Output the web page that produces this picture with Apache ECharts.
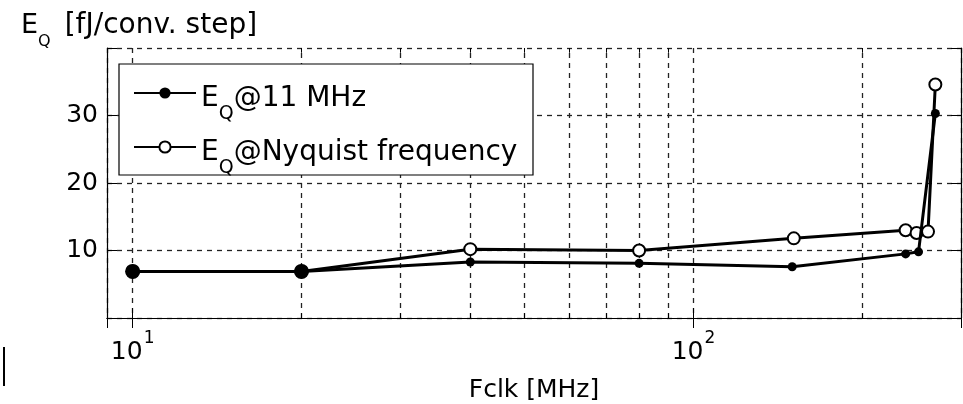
<!DOCTYPE html>
<html>
<head>
<meta charset="utf-8">
<script src="https://cdn.jsdelivr.net/npm/echarts@6/dist/echarts.min.js"></script>
<style>html,body{margin:0;padding:0;background:#fff}#c{width:963px;height:404px}</style>
</head>
<body>
<div id="c"></div>
<script>
// Data
const fclk11 = [10, 20, 40, 80, 150, 239, 252, 270];
const eq11 = [6.9, 6.9, 8.3, 8.1, 7.6, 9.5, 9.8, 30.3];
const fclkNyq = [10, 20, 40, 80, 151, 239, 250, 262, 270];
const eqNyq = [6.9, 6.9, 10.2, 10.0, 11.8, 13.0, 12.6, 12.8, 34.6];
const yTicks = [10, 20, 30];
const xMinorGrid = [20, 30, 40, 50, 60, 70, 80, 90, 200];
const seriesNames = ['E_Q@11 MHz', 'E_Q@Nyquist frequency'];

const FONT = 'DejaVu Sans';
const pair = (xs, ys) => xs.map((x, i) => [x, ys[i]]);

const gridDash = { color: '#222', width: 1.3, type: [5, 5] };
const minorLines = [];
xMinorGrid.forEach(v => {
  minorLines.push({ xAxis: v, lineStyle: gridDash });
  minorLines.push([{ coord: [v, 0], lineStyle: { type: 'solid', width: 1, color: '#000' } }, { coord: [v, 0.7] }]);
  minorLines.push([{ coord: [v, 39.3], lineStyle: { type: 'solid', width: 1, color: '#000' } }, { coord: [v, 40] }]);
});

const subRich = {
  n: { fontSize: 28, fontFamily: FONT, color: '#000', lineHeight: 30, padding: [7, 0, 6, 0], verticalAlign: 'top' },
  s: { fontSize: 19, fontFamily: FONT, color: '#000', lineHeight: 12, padding: [27, 0, 0, 0], verticalAlign: 'top' }
};

const chart = echarts.init(document.getElementById('c'));
chart.setOption({
  animation: false,
  backgroundColor: '#fff',
  grid: { left: 107, right: 2, top: 48, bottom: 86, outerBoundsMode: 'none', containLabel: false },
  title: {
    left: 16, top: 7,
    text: '{n|E}{s|Q}{b|[fJ/conv. step]}',
    textStyle: {
      fontWeight: 'normal',
      rich: {
        n: { fontSize: 27, fontFamily: FONT, fontWeight: 'normal', color: '#000', lineHeight: 30, verticalAlign: 'top' },
        s: { fontSize: 16, fontFamily: FONT, fontWeight: 'normal', color: '#000', lineHeight: 16, padding: [22, 0, 0, 0], verticalAlign: 'top' },
        b: { fontSize: 28, fontFamily: FONT, fontWeight: 'normal', color: '#000', lineHeight: 30, padding: [0, 0, 0, 14], verticalAlign: 'top' }
      }
    }
  },
  legend: {
    orient: 'vertical',
    left: 119, top: 70,
    padding: [8, 15, 4, 14],
    itemWidth: 62, itemHeight: 14, itemGap: 8,
    borderWidth: 0, backgroundColor: 'transparent',
    z: 10,
    formatter: name => {
      const parts = name.split('_Q');
      return '{n|' + parts[0] + '}{s|Q}{n|' + parts[1] + '}';
    },
    textStyle: { rich: subRich }
  },
  xAxis: [{
    type: 'log', logBase: 10, min: 9, max: 300, position: 'bottom',
    axisLine: { show: true, lineStyle: { color: '#000', width: 1.2 } },
    axisTick: { show: true, inside: true, length: 10, lineStyle: { color: '#000' } },
    axisLabel: {
      margin: 12,
      formatter: v => {
        const e = Math.log10(v);
        if (Math.abs(e - Math.round(e)) > 1e-6) return '';
        return '{b|10}{e|' + Math.round(e) + '}';
      },
      rich: {
        b: { fontSize: 25, fontFamily: FONT, color: '#000', lineHeight: 28, padding: [10, 0, 0, 0], verticalAlign: 'top' },
        e: { fontSize: 17, fontFamily: FONT, color: '#000', lineHeight: 17, padding: [0, 0, 0, 1], verticalAlign: 'top' }
      }
    },
    splitLine: { show: true, lineStyle: gridDash },
    name: 'Fclk [MHz]', nameLocation: 'middle', nameGap: 60,
    nameTextStyle: { fontSize: 25, fontFamily: FONT, color: '#000' }
  }, {
    type: 'log', logBase: 10, min: 9, max: 300, position: 'top',
    axisLine: { show: true, lineStyle: { color: '#000', width: 1.2 } },
    axisTick: { show: true, inside: true, length: 10, lineStyle: { color: '#000' } },
    axisLabel: { show: false },
    splitLine: { show: false }
  }],
  yAxis: [{
    type: 'value', min: 0, max: 40, interval: 10, position: 'left',
    axisLine: { show: true, lineStyle: { color: '#000', width: 1.2 } },
    axisTick: { show: true, inside: true, length: 10, lineStyle: { color: '#000' } },
    axisLabel: {
      margin: 9, fontSize: 25, fontFamily: FONT, color: '#000',
      formatter: v => (yTicks.indexOf(v) >= 0 ? String(v) : '')
    },
    splitLine: { show: true, lineStyle: gridDash }
  }, {
    type: 'value', min: 0, max: 40, interval: 10, position: 'right',
    axisLine: { show: true, lineStyle: { color: '#000', width: 1.2 } },
    axisTick: { show: true, inside: true, length: 10, lineStyle: { color: '#000' } },
    axisLabel: { show: false },
    splitLine: { show: false }
  }],
  series: [{
    name: seriesNames[0], type: 'line', xAxisIndex: 0, yAxisIndex: 0,
    data: pair(fclk11, eq11),
    symbol: 'circle',
    symbolSize: (val) => (val[0] <= 20 ? 15 : 9),
    z: 4,
    itemStyle: { color: '#000' },
    lineStyle: { color: '#000', width: 3 },
    markLine: {
      silent: true, symbol: 'none', label: { show: false }, z: 1,
      data: minorLines
    }
  }, {
    name: seriesNames[1], type: 'line', xAxisIndex: 0, yAxisIndex: 0,
    data: pair(fclkNyq, eqNyq),
    symbol: 'emptyCircle', symbolSize: 12, z: 3,
    itemStyle: { color: '#000', borderWidth: 2 },
    lineStyle: { color: '#000', width: 3 }
  }],
  graphic: [{
    type: 'rect', z: 6,
    shape: { x: 119, y: 64, width: 414, height: 111 },
    style: { fill: '#fff', stroke: '#000', lineWidth: 1.2 }
  }, {
    type: 'line', shape: { x1: 4, y1: 347, x2: 4, y2: 386 },
    style: { stroke: '#000', lineWidth: 2 }
  }]
});
</script>
</body>
</html>
